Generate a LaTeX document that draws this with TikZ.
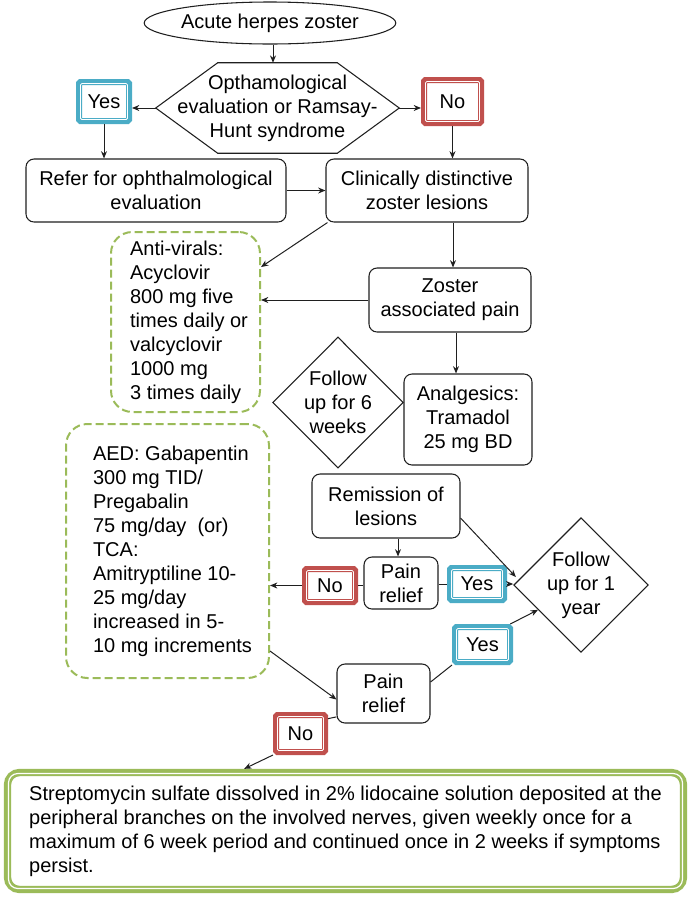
\documentclass[tikz,border=0pt]{standalone}
\usepackage{fontspec}
\setmainfont{Liberation Sans}
\usetikzlibrary{shapes.geometric,arrows.meta}
\definecolor{tealc}{HTML}{4BACC6}
\definecolor{redc}{HTML}{C0504D}
\definecolor{greenc}{HTML}{9BBB59}
\definecolor{linec}{HTML}{1F1F1F}
\newcommand\ynnode[6]{%
  \node[ynbox, draw=#3, minimum width=#4, minimum height=#5] (#1) at #2 {#6};
  \draw[white, line width=0.55pt, rounded corners=0.8pt] ([xshift=3.45pt,yshift=-3.45pt]#1.north west) rectangle ([xshift=-3.45pt,yshift=3.45pt]#1.south east);
}
\newcommand\ia{\hspace*{5.25pt}}
\newcommand\ib{\hspace*{7.5pt}}
\begin{document}
\begin{tikzpicture}[x=0.75pt,y=-0.75pt,
  txt/.style={font=\fontsize{15}{18}\selectfont, text=black, align=center, inner sep=0pt},
  box/.style={txt, draw=linec, line width=0.8pt, rounded corners=6pt, fill=white},
  dashbox/.style={txt, align=left, draw=greenc, line width=1.5pt, dash pattern=on 6pt off 3pt, rounded corners=16pt},
  dia/.style={txt, draw=linec, line width=0.8pt, shape=diamond},
  ynbox/.style={txt, line width=4.5pt, outer sep=2.25pt, rounded corners=1pt, fill=white},
  arr/.style={draw=linec, line width=0.75pt, -{Stealth[length=5.5pt,width=4.5pt]}},
  con/.style={draw=linec, line width=0.75pt},
]
\useasboundingbox (0,0) rectangle (691,897);

% nodes
\node[txt, shape=ellipse, draw=linec, line width=0.8pt, minimum width=171.75pt, minimum height=31.5pt] (start) at (270,23) {Acute herpes zoster};

\node[txt, minimum width=182.25pt, minimum height=67.5pt] (hex) at (277.5,108) {Opthamological\\evaluation or Ramsay-\\Hunt syndrome};
\draw[con, line width=0.8pt] (hex.west) -- ([xshift=46.5pt]hex.north west) -- ([xshift=-46.5pt]hex.north east) -- (hex.east) -- ([xshift=-46.5pt]hex.south east) -- ([xshift=46.5pt]hex.south west) -- cycle;

\ynnode{yes1}{(104,101.5)}{tealc}{37.5pt}{29.25pt}{Yes}
\ynnode{no1}{(452.5,101.5)}{redc}{42.75pt}{32.25pt}{No}

\node[box, minimum width=195pt, minimum height=47.25pt] (refer) at (156,190.5) {Refer for ophthalmological\\evaluation};
\node[box, minimum width=151.5pt, minimum height=47.25pt] (clin) at (427,190.5) {Clinically distinctive\\zoster lesions};

\node[dashbox, minimum width=111.75pt, minimum height=135pt] (anti) at (185.5,322) {\ia Anti-virals:\\\ia Acyclovir\\\ia 800 mg five\\\ia times daily or\\\ia valcyclovir\\\ia 1000 mg\\\ia 3 times daily};

\node[box, minimum width=121.5pt, minimum height=48pt] (zoster) at (450,300) {Zoster\\associated pain};
\node[box, minimum width=96pt, minimum height=68.25pt] (analg) at (468,419.5) {Analgesics:\\Tramadol\\25 mg BD};
\node[dia, minimum width=93pt, minimum height=98.25pt] (fu6) at (338,402.5) {Follow\\up for 6\\weeks};

\node[dashbox, minimum width=152.25pt, minimum height=190.5pt] (aed) at (167.5,551) {\ib AED: Gabapentin\\\ib 300 mg TID/\\\ib Pregabalin\\\ib 75 mg/day\ \ (or)\\\ib TCA:\\\ib Amitryptiline 10-\\\ib 25 mg/day\\\ib increased in 5-\\\ib 10 mg increments};

\node[box, minimum width=111pt, minimum height=48pt] (rem) at (386,506) {Remission of\\lesions};
\node[box, minimum width=55.5pt, minimum height=39pt] (pr1) at (401,583) {Pain\\relief};
\ynnode{no2}{(330,585.5)}{redc}{37.5pt}{24.75pt}{No}
\ynnode{yes2}{(477,584)}{tealc}{40.5pt}{24pt}{Yes}
\node[dia, minimum width=80.25pt, minimum height=94.5pt] (fu1) at (581,585) {Follow\\up for 1\\year};
\ynnode{yes3}{(482.5,644.5)}{tealc}{41.25pt}{26.25pt}{Yes}
\node[box, minimum width=69.75pt, minimum height=44.25pt] (pr2) at (383.5,693.5) {Pain\\relief};
\ynnode{no3}{(300.5,733.5)}{redc}{36.75pt}{27.75pt}{No}

\node[txt, align=left, draw=greenc, line width=5.5pt, outer sep=2.75pt, rounded corners=9pt, fill=white, minimum width=507pt, minimum height=87.75pt] (final) at (345.5,831) {Streptomycin sulfate dissolved in 2\% lidocaine solution deposited at the\\peripheral branches on the involved nerves, given weekly once for a\\maximum of 6 week period and continued once in 2 weeks if symptoms\\persist.};
\draw[white, line width=0.9pt, rounded corners=7pt] ([xshift=3.5pt,yshift=-3.5pt]final.north west) rectangle ([xshift=-3.5pt,yshift=3.5pt]final.south east);

% connectors
\draw[arr] ([xshift=2.25pt]start.south) -- ([xshift=2.25pt]start.south |- hex.north);
\draw[arr] (hex.west) -- (hex.west -| yes1.east);
\draw[arr] (hex.east) -- (hex.east -| no1.west);
\draw[arr] (yes1.south) -- (yes1.south |- refer.north);
\draw[arr] (no1.south) -- (no1.south |- clin.north);
\draw[arr] (refer.east) -- (refer.east -| clin.west);
\draw[arr] ([xshift=1.5pt]clin.south west) -- ([yshift=41.25pt]anti.east);
\draw[arr] ([xshift=2.25pt]zoster.north |- clin.south) -- ([xshift=2.25pt]zoster.north);
\draw[arr] (zoster.west) -- (zoster.west -| anti.east);
\draw[arr] ([xshift=4.5pt]zoster.south) -- ([xshift=4.5pt]zoster.south |- analg.north);
\draw[arr] ([xshift=-2.25pt]pr1.north |- rem.south) -- ([xshift=-2.25pt]pr1.north);
\draw[arr] ([yshift=-9pt]rem.east) -- ([xshift=2pt,yshift=6pt]fu1.west);
\draw[con] (no2.east) -- (no2.east -| pr1.west);
\draw[arr] (no2.west) -- (no2.west -| aed.east);
\draw[con] (yes2.west -| pr1.east) -- (yes2.west);
\draw[arr] (yes2.east) -- (yes2.east -| fu1.west);
\draw[arr] ([yshift=-75pt]aed.east) -- ([yshift=-4.5pt]pr2.west);
\draw[con] ([yshift=8.6pt]pr2.east) -- (yes3.south west);
\draw[arr] ([xshift=-2pt]yes3.north east) -- (fu1.210);
\draw[con] ([yshift=5pt]pr2.south west) -- ([yshift=-5pt]no3.north east);
\draw[arr] (no3.south west) -- ([xshift=-76pt]final.north);
\end{tikzpicture}
\end{document}
